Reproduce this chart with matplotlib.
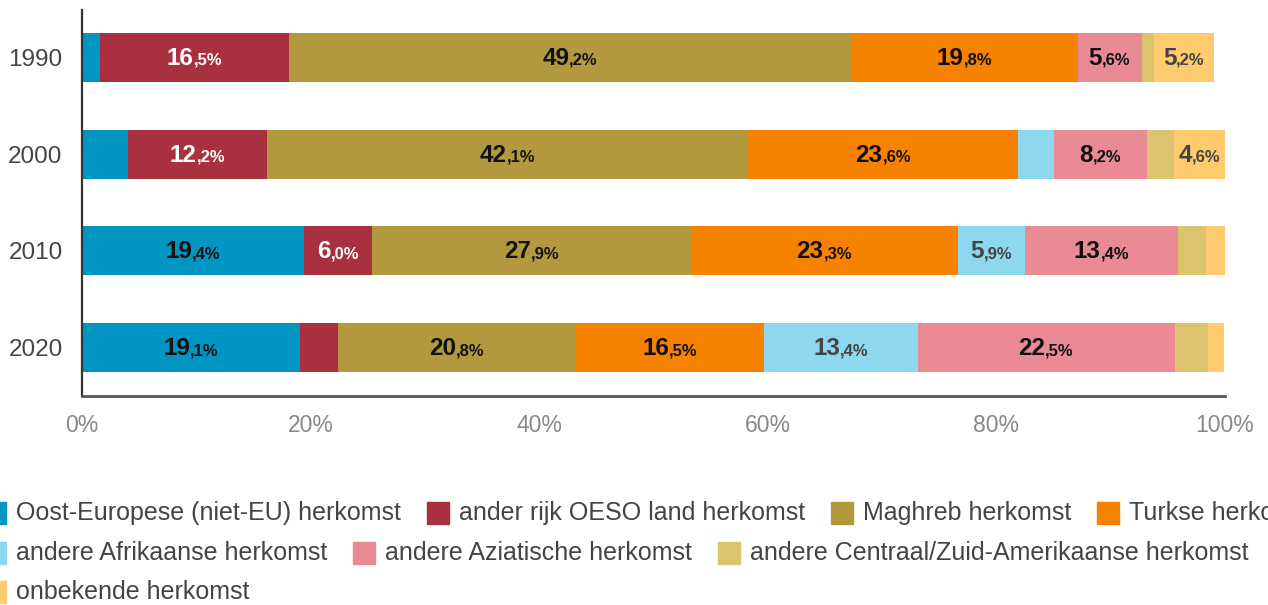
import matplotlib
matplotlib.use("Agg")
import matplotlib.pyplot as plt
from matplotlib.patches import Rectangle
from matplotlib.offsetbox import TextArea, HPacker, AnnotationBbox

plt.rcParams['font.family'] = ['Liberation Sans', 'DejaVu Sans']

years = ["1990", "2000", "2010", "2020"]
series = [
    "Oost-Europese (niet-EU) herkomst",
    "ander rijk OESO land herkomst",
    "Maghreb herkomst",
    "Turkse herkomst",
    "andere Afrikaanse herkomst",
    "andere Aziatische herkomst",
    "andere Centraal/Zuid-Amerikaanse herkomst",
    "onbekende herkomst",
]
oost_europa = [1.6, 4.0, 19.4, 19.1]
oeso = [16.5, 12.2, 6.0, 3.3]
maghreb = [49.2, 42.1, 27.9, 20.8]
turks = [19.8, 23.6, 23.3, 16.5]
afrika = [0.0, 3.1, 5.9, 13.4]
azie = [5.6, 8.2, 13.4, 22.5]
zuid_amerika = [1.1, 2.3, 2.4, 2.9]
onbekend = [5.2, 4.6, 1.7, 1.4]
values = [oost_europa, oeso, maghreb, turks, afrika, azie, zuid_amerika, onbekend]

colors = ["#0096C1", "#A8303F", "#B3993E", "#F78200",
          "#8ED8EF", "#E98A94", "#DCC46F", "#FFCB6E"]
label_colors = ["#111111", "#FFFFFF", "#111111", "#111111",
                "#444444", "#111111", None, "#444444"]

W, H = 1268, 605
fig = plt.figure(figsize=(W / 100, H / 100), dpi=100)
ax = fig.add_axes([82 / W, 1 - 396 / H, 1143 / W, 386 / H])

ypos = list(range(len(years)))
left = [0.0] * len(years)
for vals, col, lcol in zip(values, colors, label_colors):
    ax.barh(ypos, vals, left=left, height=0.507, color=col, linewidth=0)
    for y, v, l0 in zip(ypos, vals, left):
        if lcol is None or v < 4.5:
            continue
        whole, frac = f"{v:.1f}".split(".")
        big = TextArea(whole, textprops=dict(fontsize=17.5, fontweight="bold", color=lcol))
        small = TextArea("," + frac + "%", textprops=dict(fontsize=12, fontweight="bold", color=lcol))
        box = HPacker(children=[big, small], align="baseline", pad=0, sep=0)
        ab = AnnotationBbox(box, (l0 + v / 2, y), xycoords="data", frameon=False,
                            box_alignment=(0.5, 0.54), pad=0)
        ax.add_artist(ab)
    left = [a + b for a, b in zip(left, vals)]

ax.set_xlim(0, 100)
ax.set_ylim(3.5, -0.49)
ax.set_yticks(ypos)
ax.set_yticklabels(years, fontsize=17.5, color="#444444")
ax.set_xticks([0, 20, 40, 60, 80, 100])
ax.set_xticklabels(["0%", "20%", "40%", "60%", "80%", "100%"], fontsize=16.5, color="#888888")
ax.tick_params(axis="y", length=0, pad=14)
ax.tick_params(axis="x", length=0, pad=13)
for s in ["top", "right"]:
    ax.spines[s].set_visible(False)
ax.spines["left"].set_color("#333333")
ax.spines["left"].set_linewidth(1.6)
ax.spines["bottom"].set_color("#555555")
ax.spines["bottom"].set_linewidth(2.0)

# legend, flowing rows like the original (partly cut off at the edges)
rows = [[0, 1, 2, 3], [4, 5, 6], [7]]
row_y = [513, 553, 592]
renderer = fig.canvas.get_renderer()
for row, yc in zip(rows, row_y):
    x = -16
    for i in row:
        fig.patches.append(Rectangle((x / W, 1 - (yc + 11) / H), 22 / W, 22 / H,
                                     transform=fig.transFigure, color=colors[i]))
        t = fig.text((x + 32) / W, 1 - yc / H, series[i], fontsize=18,
                     color="#444444", va="center", ha="left")
        x += 32 + t.get_window_extent(renderer).width + 26

fig.savefig("out.png", dpi=100)
